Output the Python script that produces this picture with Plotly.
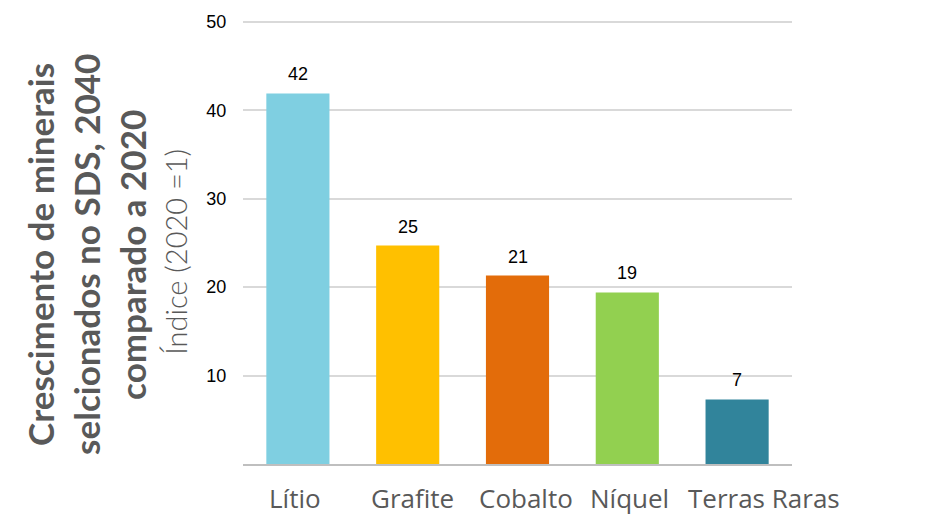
import plotly.graph_objects as go

# dados
minerais = ["Lítio", "Grafite", "Cobalto", "Níquel", "Terras Raras"]
crescimento = [41.9, 24.7, 21.3, 19.4, 7.3]
rotulos = ["42", "25", "21", "19", "7"]
cores = ["#7FCFE1", "#FFC000", "#E36C0A", "#92D050", "#31849B"]

titulo_linhas = ["Crescimento de minerais", "selcionados no SDS, 2040", "comparado a 2020"]
subtitulo = "Índice (2020 =1)"

CINZA = "#595959"
ARIAL = "Liberation Sans, Arial"

# deslocamento horizontal dos rótulos de categoria (px), como no original
desloc_rotulos = [-3, 5, 8, 2, 27]

fig = go.Figure()
fig.add_trace(go.Bar(
    x=minerais, y=crescimento,
    marker=dict(color=cores, line=dict(width=0)),
    width=0.575,
    hovertemplate="%{x}: %{y}<extra></extra>",
))

# rótulos de valor acima das barras
for cat, val, txt in zip(minerais, crescimento, rotulos):
    fig.add_annotation(
        x=cat, y=val, text=txt, showarrow=False,
        yanchor="bottom", yshift=7,
        font=dict(family=ARIAL, size=18, color="#000000"),
    )

# rótulos de categoria
for cat, dx in zip(minerais, desloc_rotulos):
    fig.add_annotation(
        x=cat, y=0, text=cat, showarrow=False,
        yanchor="top", yshift=-14, xshift=dx,
        font=dict(family="Open Sans, Lato", size=26, color=CINZA),
    )

# a página tem 8px de margem no body: figura um pouco menor para caber
fig.update_layout(
    width=940, height=512,
    margin=dict(l=235, r=156, t=12, b=56),
    plot_bgcolor="white", paper_bgcolor="white",
    showlegend=False,
)
fig.update_yaxes(
    range=[0, 50.2], tickvals=[10, 20, 30, 40, 50],
    autorange=False, automargin=False,
    gridcolor="#D9D9D9", gridwidth=1.5,
    zeroline=False, showline=False,
    ticks="outside", ticklen=12, tickcolor="rgba(0,0,0,0)",
    tickfont=dict(family=ARIAL, size=18, color="#000000"),
)
fig.update_xaxes(
    range=[-0.5, 4.5], autorange=False, automargin=False,
    showline=True, linecolor="#BFBFBF", linewidth=2,
    showticklabels=False, ticks="",
)

# título do eixo y (3 linhas em negrito + subtítulo)
for linha, cx in zip(titulo_linhas, [40, 86, 132]):
    fig.add_annotation(
        text=f"<b>{linha}</b>", textangle=-90,
        xref="paper", yref="paper", x=0, y=0.471,
        xshift=cx - 243, xanchor="center", yanchor="middle",
        showarrow=False,
        font=dict(family="Lato", size=35, color=CINZA),
    )
fig.add_annotation(
    text=subtitulo, textangle=-90,
    xref="paper", yref="paper", x=0, y=0.478,
    xshift=176 - 243, xanchor="center", yanchor="middle",
    showarrow=False,
    font=dict(family="Lato Light, Lato", size=29, color=CINZA),
)

fig.write_html("out.html")
